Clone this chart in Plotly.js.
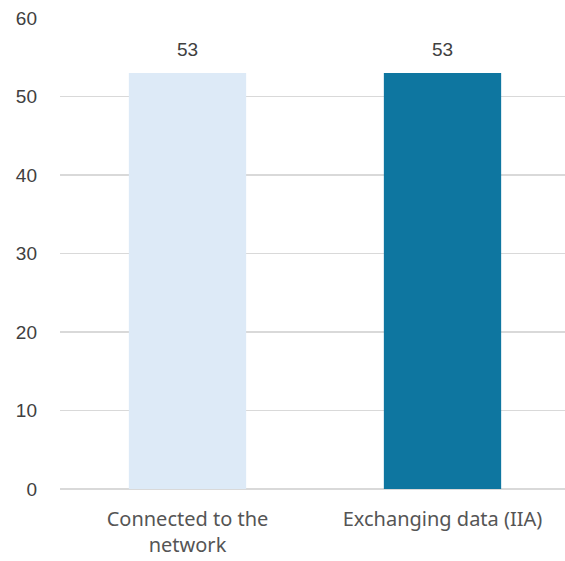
<!DOCTYPE html>
<html><head><meta charset="utf-8">
<script src="https://cdn.plot.ly/plotly-3.0.1.min.js"></script>
<style>html,body{margin:0;padding:0;overflow:hidden;background:#fff}</style>
</head><body><div id="chart"></div>
<script>
const categories = ["Connected to the<br>network", "Exchanging data (IIA)"];
const values = [53, 53];
const barColors = ["#DDEAF7", "#0E76A0"];
const yTicks = [0, 10, 20, 30, 40, 50, 60];

const trace = {
  type: "bar", x: categories, y: values,
  marker: {color: barColors},
  hoverinfo: "none"
};
const annotations = categories.map((c, i) => ({
  x: c, y: values[i], text: String(values[i]), showarrow: false,
  yanchor: "bottom", yshift: 11,
  font: {family: "Liberation Sans, Arial, sans-serif", size: 19, color: "#404040"}
}));
const layout = {
  width: 570, height: 561,
  margin: {l: 60, r: 0, t: 18, b: 72},
  paper_bgcolor: "#fff", plot_bgcolor: "#fff",
  bargap: 0.54, showlegend: false,
  font: {family: "Liberation Sans, Arial, sans-serif", size: 19, color: "#595959"},
  xaxis: {showgrid: false, showline: false, ticks: "", ticklabelstandoff: 16,
          tickfont: {family: "Noto Sans, sans-serif", size: 20, color: "#555555"}},
  yaxis: {range: [0, 60], tickvals: yTicks, showgrid: true, gridcolor: "#D9D9D9", gridwidth: 1.5,
          zeroline: true, zerolinecolor: "#D9D9D9", zerolinewidth: 1.5,
          showline: false, ticks: "", ticklabelstandoff: 22,
          tickfont: {family: "Liberation Sans, Arial, sans-serif", size: 19, color: "#404040"}},
  annotations: annotations
};
Plotly.newPlot("chart", [trace], layout, {displayModeBar: false, staticPlot: true});
</script></body></html>
